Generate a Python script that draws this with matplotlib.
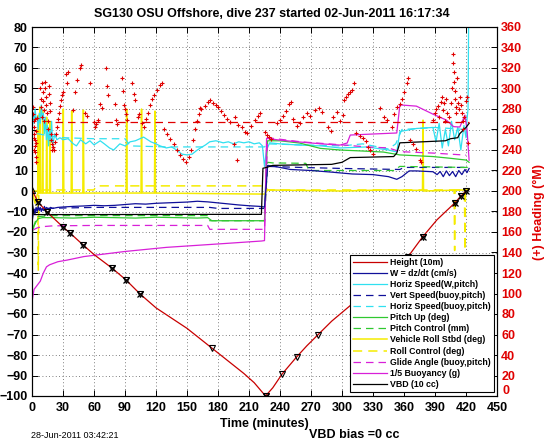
import matplotlib
matplotlib.use('Agg')
import matplotlib.pyplot as plt
import matplotlib.transforms as mtransforms

plt.rcParams['font.family'] = ['Liberation Sans', 'DejaVu Sans']
plt.rcParams['axes.unicode_minus'] = True

# ---------------- data ----------------
title = 'SG130 OSU Offshore, dive 237 started 02-Jun-2011 16:17:34'
x_ticks = [0, 30, 60, 90, 120, 150, 180, 210, 240, 270, 300, 330, 360, 390, 420, 450]
y_ticks = [80, 70, 60, 50, 40, 30, 20, 10, 0, -10, -20, -30, -40, -50, -60, -70, -80, -90, -100]
y2_ticks = [0, 20, 40, 60, 80, 100, 120, 140, 160, 180, 200, 220, 240, 260, 280, 300, 320, 340, 360]

# Height (10 m)
height_t = [0, 5.8, 14.5, 30, 36.8, 49.4, 60, 77.4, 91, 104.5, 120, 135, 150, 165, 174, 190, 205, 215, 226,
            233, 242, 256, 266, 277, 290, 311, 330, 345, 364, 378, 392, 409, 415, 420]
height_v = [0.5, -5.4, -10.2, -17.6, -20.5, -26.3, -31, -37.6, -43.4, -50.2, -57, -62, -67, -73, -76.6, -83, -89, -93.5, -100,
            -96, -89.3, -81, -75.5, -70, -63.5, -54.6, -47, -40.5, -32, -22.4, -14, -5.9, -2.5, 0]
height_tri_idx = [1, 2, 3, 4, 5, 7, 8, 9, 14, 18, 20, 21, 23, 28, 29, 31, 32, 33]
height_x_idx = [1, 2, 3, 4, 5, 7, 8, 9, 18, 29, 31, 32, 33]

# W = dz/dt (cm/s)
w_t = [0, 1, 2, 3, 4, 5, 6, 7, 8, 9, 10, 11, 12, 13, 14, 16, 18, 20, 25, 30,
       40, 50, 60, 70, 80, 90, 100, 110, 120, 130, 140, 150, 160, 170, 180, 190, 200, 210, 220,
       225, 227, 228, 235, 250, 270, 290, 310, 330, 345, 353, 358, 365, 372, 380, 388,
       392, 395, 398, 401, 404, 407, 410, 413, 416, 419, 421, 423]
w_v = [-15, -12, -9, -11, -8, -10, -7.5, -9.5, -8, -10, -8.5, -9.5, -7.5, -9, -8, -9, -8, -8.5, -8, -7.8,
       -7.5, -7.3, -7, -7.2, -7, -6.6, -6.2, -6.4, -6, -5.8, -5.6, -5.4, -5, -5.3, -5.8, -6.3, -6.8, -7.2, -7.5,
       -7.8, 5, 12.5, 12, 10.5, 10, 9.2, 8.3, 8, 7, 5.7, 7, 9.8, 9.8, 9.6, 9.4,
       8, 9.5, 7, 9.8, 7.5, 9.5, 7, 10, 8, 10.5, 9, 11]

# Horiz Speed (W, pitch)
hs_t = [0, 1, 2, 3, 4, 5, 6, 7, 8, 9, 10, 11, 12, 13, 14, 15, 16, 17, 18, 19, 20,
        22, 24, 27, 30, 35, 40, 43, 47, 52, 56, 60,
        66, 70, 75, 79, 85, 90, 95, 100,
        108, 115, 120, 124, 130, 135, 140, 145, 150, 155, 160, 163, 168, 172, 178, 185, 190, 195, 200, 205,
        210, 215, 220, 223, 225, 227, 230, 240,
        259, 280, 298, 324, 345, 353, 356, 372, 388,
        391, 394, 397, 400, 403, 406, 409, 412, 415, 418, 420, 421, 422, 422.5]
hs_v = [28, 38, 33, 40, 35, 36, 30, 38, 33, 42, 35, 38, 28, 36, 25, 32, 22, 30, 24, 34, 22,
        28, 25, 26, 25, 25.5, 23, 22, 25, 23, 24.5, 22.5,
        24.5, 23, 21, 20, 23, 22, 24, 24.5,
        26.3, 24, 23, 22, 21, 21.5, 20, 18, 17.6, 18, 20, 21, 22.5, 24, 24.5, 23.5, 24, 23, 24, 23.5,
        24, 23, 23.5, 22, 12, 20, 23.5, 23,
        22.4, 22, 21, 21.5, 20, 19, 29, 30.5, 31,
        24, 33, 21, 30, 22, 34, 25, 31, 20, 32, 26, 35, 40, 80]

# Vert Speed (buoy, pitch)
vs_t = [2, 10, 60, 120, 172, 180, 225, 228, 260, 300, 356, 360, 420]
vs_v = [-9, -8.5, -8, -8, -8, -8.5, -8.5, 12, 11.5, 11, 10.5, 11.5, 11.5]

# Horiz Speed (buoy, pitch)
hsb_t = [5, 15, 30, 60, 90, 95, 130, 172, 225, 228, 260, 300, 320, 345, 352, 358, 390, 420]
hsb_v = [28, 27, 26, 25.5, 25.5, 22, 21.5, 21.5, 21.5, 23, 22.5, 22, 23, 20.5, 23, 30, 31, 30]

# Pitch Up (deg)
pu_t = [0, 0.5, 2, 4, 6, 10, 20, 40, 60, 80, 100, 120, 140, 160, 170, 174, 200, 225, 226.5, 228,
        240, 259, 279, 298, 320, 340, 356, 372, 388, 404, 420, 423]
pu_v = [-100, -20, -17, -15, -13.5, -13, -13, -13.2, -12.8, -13, -13.2, -12.8, -13, -13.2, -13, -14.5, -14.5, -14.5, 10, 24.5,
        24.5, 23.4, 20.8, 20, 19.5, 19, 17.6, 17.2, 16.8, 16, 15.1, 14]

# Pitch Control (mm)
pc_t = [1, 5, 20, 100, 170, 172, 225, 228, 233, 265, 268, 350, 356, 420, 423]
pc_v = [-18, -12.5, -12, -12, -12, -14.5, -14.5, 14, 13.7, 13.5, 10, 10, 12, 11.5, 11.5]

# Vehicle Roll Stbd (deg)
roll_t = [0, 3, 5.5, 6.0, 6.5, 7.2, 7.7, 8.2, 9.8, 10.3, 10.8, 13.7, 14.2, 14.7, 16.9, 17.4, 17.9,
          29.8, 30.3, 30.8, 37.9, 38.4, 38.9, 49.2, 49.7, 50.2, 91.1, 91.6, 92.1, 105.5, 106.0, 106.5,
          118.5, 119.0, 119.5, 160, 200, 225, 228, 260, 300, 340, 377.9, 378.4, 378.9, 400, 420, 423]
roll_v = [0, -6, -1, 37, -1, -1, 41, -1, -1, 39, -1, -1, 36, -1, -1, 34, -1,
          -1, 40, -1, -1, 39, -1, -1, 39.5, -1, -1, 40, -1, -1, 40, -1,
          -1, 39, -1, -1.2, -1.4, -1.5, 0.5, 0.3, 0, 0.5, 0.3, 34.6, 0, 0.3, 0.5, 1]

# Roll Control (deg)
rollc_t = [0, 5.6, 6.1, 6.6, 12, 60, 62, 225, 228, 408.5, 409, 409.5, 418.5, 419, 419.5, 423]
rollc_v = [0, 0, -39, 0, 0.5, 0.5, 2.5, 2.5, 0.5, 0.5, -29, 0.5, 0.5, -29, 0.5, 1]

# Glide Angle (buoy, pitch)
ga_t = [1, 5, 10, 20, 60, 100, 170, 172, 225, 228, 260, 300, 324, 345, 356, 388, 420]
ga_v = [-19, -18, -17.4, -17, -16.8, -16.8, -16.8, -18.7, -18.7, 26, 24, 22.5, 21.5, 21, 19.2, 18.5, 17.5]

# 1/5 Buoyancy (g)
bu_t = [0, 0.3, 2, 5, 8, 11, 14, 17, 25, 34, 50, 66, 90, 110, 130, 160, 190, 222, 225, 227, 240, 259, 280,
        298, 305, 308, 330, 353, 356, 372, 388, 401, 408, 414, 419, 421, 423]
bu_v = [-5, -53, -48, -46, -44, -40, -37, -36, -34.5, -33.7, -32, -31, -29.5, -28.5, -27.5, -26.5, -25.5, -24.4, -24.2, 25.7, 24.8, 23.9, 23,
        22.4, 23.4, 27.3, 27.8, 28.3, 42, 41.4, 37.5, 34.6, 31.4, 31.2, 37, 29.8, 15]

# VBD (10 cc)
vbd_t = [0, 2, 60, 150, 222, 223.5, 227, 233, 290, 300, 308, 350, 353, 356, 400, 405, 412, 414, 420, 423]
vbd_v = [-5, -11.5, -11.5, -11.4, -11.4, 11.1, 11.5, 12.5, 13, 14, 16.3, 16.8, 18.5, 23.5, 24.5, 25.5, 26, 28, 31, 33]

# Heading (deg M), right axis
heading_pts = [
    (1.0, 282), (1.3, 275), (1.6, 268), (1.9, 262), (2.2, 256), (2.5, 250), (2.8, 244), (3.1, 238), (3.4, 233),
    (3.7, 228), (4.0, 247), (4.3, 259), (4.6, 271), (1.5, 252), (2.0, 240), (3.0, 270),
    (8, 300), (8.5, 290), (9, 282), (9.5, 272), (10, 305), (10.5, 297), (11, 288), (11.5, 279), (12, 268),
    (12.5, 306), (13, 300), (13.5, 292), (14, 284), (14.5, 276), (15, 268), (15.5, 260), (16, 302), (16.5, 295),
    (17, 286), (17.5, 278), (18, 256), (18.5, 250), (19, 246), (19.5, 240), (20, 243),
    (21, 240), (22, 248), (23, 256), (24, 262), (25, 270), (26, 276), (27, 283), (28, 289), (29, 294), (30, 297),
    (33, 314), (34, 305), (35, 316), (40, 279), (42, 297), (44, 308), (46, 320), (47, 323),
    (51, 276), (53, 273), (56, 305), (60, 267), (61, 262), (62, 265), (64, 269), (66, 285), (68, 281), (72, 320),
    (73, 302), (74, 294), (80, 285), (81, 269), (82, 265), (87, 310), (88, 298), (89, 284), (90, 280), (91, 275),
    (92, 269), (97, 305), (99, 295), (100, 289), (103, 272), (104, 275), (106, 266), (108, 262), (110, 270),
    (112, 276), (114, 284), (116, 290), (118, 294), (121, 299), (124, 303), (126, 305),
    (128, 260), (131, 256), (134, 251), (137, 246), (140, 240), (143, 235), (146, 231), (149, 228),
    (152, 233), (154, 240), (156, 250), (158, 260), (160, 268), (162, 275), (163, 281),
    (164, 280), (167, 283), (170, 287), (172, 289), (175, 286), (178, 284), (180, 282), (183, 278), (186, 274),
    (189, 270), (192, 267), (196, 272), (199, 264), (203, 262), (206, 258), (208, 257), (212, 263), (216, 269),
    (219, 273), (221, 276), (195, 246), (198, 230),
    (225, 258), (227, 255), (229, 253), (231, 251),
    (237, 266), (240, 269), (243, 273), (246, 278), (249, 285), (251, 287),
    (253, 270), (256, 263), (259, 266), (262, 272), (266, 276), (269, 273), (274, 279), (278, 281), (281, 277),
    (286, 262), (289, 259), (291, 272), (295, 277), (298, 268), (301, 274),
    (302, 289), (304, 292), (306, 295), (308, 297), (310, 299), (312, 305),
    (314, 257), (317, 254), (320, 252), (323, 249), (325, 243), (327, 240), (330, 236),
    (337, 281), (341, 272), (344, 269), (348, 262), (350, 275), (353, 282), (356, 285), (358, 290), (360, 297),
    (363, 305), (364, 310),
    (366, 250), (369, 246), (372, 241), (375, 230), (376, 228),
    (388, 269), (390, 276), (391, 280), (393, 283), (394, 272), (396, 287), (397, 292), (398, 279), (399, 286),
    (400, 268), (401, 290), (402, 276), (404, 272), (405, 286), (406, 300), (407, 334), (407.5, 325), (408, 316),
    (408.5, 306), (409, 298), (409.5, 290), (410, 282), (410.5, 276), (411, 310), (412, 286), (413, 280),
    (414, 292), (415, 284), (416, 276), (417, 268), (417.5, 260), (418, 272), (420, 288), (421, 292), (422, 247),
]
heading_mean = 267
heading_mean_start = 22
heading_mean_end = 423

# ---------------- styling ----------------
C_RED = '#c80000'
C_HEAD = '#e00000'
C_BLUE = '#10109a'
C_CYAN = '#30e0f0'
C_GREEN = '#30c830'
C_YELLOW = '#f5ec00'
C_MAG = '#d820d8'
LW = 0.9
DASH = (6, 4)

fig = plt.figure(figsize=(5.46, 4.42), dpi=100)
ax = fig.add_axes([32 / 546, 46 / 442, 465 / 546, 369 / 442])

handles = []
h, = ax.plot(height_t, height_v, color=C_RED, lw=LW, label='Height (10m)', zorder=5)
handles.append(h)
ax.plot([height_t[i] for i in height_tri_idx], [height_v[i] for i in height_tri_idx], 'v', ms=5,
        mfc='none', mec='black', mew=0.8, zorder=6)
ax.plot([height_t[i] for i in height_x_idx], [height_v[i] for i in height_x_idx], 'x', ms=4,
        mec='black', mew=0.9, zorder=6)
ax.plot(height_t[0], height_v[0], '^', ms=5, mfc='none', mec='black', mew=0.8, zorder=6)

h, = ax.plot(w_t, w_v, color=C_BLUE, lw=LW, label='W = dz/dt (cm/s)', zorder=4)
handles.append(h)
h, = ax.plot(hs_t, hs_v, color=C_CYAN, lw=LW, label='Horiz Speed(W,pitch)', zorder=3)
handles.append(h)
h, = ax.plot(vs_t, vs_v, color=C_BLUE, lw=LW, dashes=DASH, label='Vert Speed(buoy,pitch)', zorder=3)
handles.append(h)
h, = ax.plot(hsb_t, hsb_v, color=C_CYAN, lw=LW, dashes=DASH, label='Horiz Speed(buoy,pitch)', zorder=3)
handles.append(h)
h, = ax.plot(pu_t, pu_v, color=C_GREEN, lw=LW, label='Pitch Up (deg)', zorder=3)
handles.append(h)
h, = ax.plot(pc_t, pc_v, color=C_GREEN, lw=LW, dashes=DASH, label='Pitch Control (mm)', zorder=3)
handles.append(h)
h, = ax.plot(roll_t, roll_v, color=C_YELLOW, lw=1.1, label='Vehicle Roll Stbd (deg)', zorder=2)
handles.append(h)
h, = ax.plot(rollc_t, rollc_v, color=C_YELLOW, lw=1.1, dashes=DASH, label='Roll Control (deg)', zorder=2)
handles.append(h)
h, = ax.plot(ga_t, ga_v, color=C_MAG, lw=LW, dashes=DASH, label='Glide Angle (buoy,pitch)', zorder=3)
handles.append(h)
h, = ax.plot(bu_t, bu_v, color=C_MAG, lw=LW, label='1/5 Buoyancy (g)', zorder=3)
handles.append(h)
h, = ax.plot(vbd_t, vbd_v, color='black', lw=LW, label='VBD (10 cc)', zorder=4)
handles.append(h)

ax.set_xlim(0, 450)
ax.set_ylim(-100, 80)
ax.set_xticks(x_ticks)
ax.set_yticks(y_ticks)
ax.grid(True, linestyle=(0, (1, 3)), color='#555555', linewidth=0.6)
ax.tick_params(direction='in', length=4, top=True, right=False, labelsize=9, width=0.7)
for lab in ax.get_xticklabels() + ax.get_yticklabels():
    lab.set_fontweight('bold')
ax.tick_params(axis='y', pad=3)
ax.tick_params(axis='x', pad=4)
for sp in ax.spines.values():
    sp.set_linewidth(0.8)
ax.set_xlabel('Time (minutes)', fontsize=9, fontweight='bold', labelpad=3)

ax2 = ax.twinx()
ht = [p[0] for p in heading_pts]
hv = [p[1] for p in heading_pts]
ax2.plot(ht, hv, '+', color=C_HEAD, ms=3.5, mew=0.8, zorder=1)
ax2.hlines(heading_mean, heading_mean_start, heading_mean_end, colors=C_HEAD, lw=LW,
           linestyles=[(0, DASH)], zorder=1)
ax2.set_ylim(0, 360)
ax2.set_yticks(y2_ticks)
ax2.tick_params(direction='in', length=4, labelsize=9, labelcolor=C_HEAD, pad=3, width=0.7)
for lab in ax2.get_yticklabels():
    lab.set_fontweight('bold')
# nudge the bottom right "0" up, like the reference
zero_lab = ax2.get_yticklabels()[0]
zero_lab.set_transform(zero_lab.get_transform() +
                       mtransforms.ScaledTranslation(1 / 100, 6 / 100, fig.dpi_scale_trans))
ax2.set_ylabel('(+) Heading (\u00b0M)', color=C_HEAD, fontsize=9, fontweight='bold', labelpad=8)

leg = ax2.legend(handles, [hh.get_label() for hh in handles], loc='lower right',
                 bbox_to_anchor=(0.9935, 0.011), prop={'size': 6.3, 'weight': 'bold'},
                 frameon=True, fancybox=False, edgecolor='black', framealpha=1,
                 handlelength=3.8, handletextpad=0.4, labelspacing=0.24, borderpad=0.35,
                 borderaxespad=0)
leg.get_frame().set_linewidth(0.8)

fig.text(272 / 546, 1 - 14 / 442, title, ha='center', va='center', fontsize=9, fontweight='bold')
fig.text(31 / 546, 1 - 435 / 442, '28-Jun-2011 03:42:21', ha='left', va='center', fontsize=6.5)
fig.text(309 / 546, 1 - 435 / 442, 'VBD bias =0 cc', ha='left', va='center', fontsize=9, fontweight='bold')

fig.savefig('out.png', dpi=100)
